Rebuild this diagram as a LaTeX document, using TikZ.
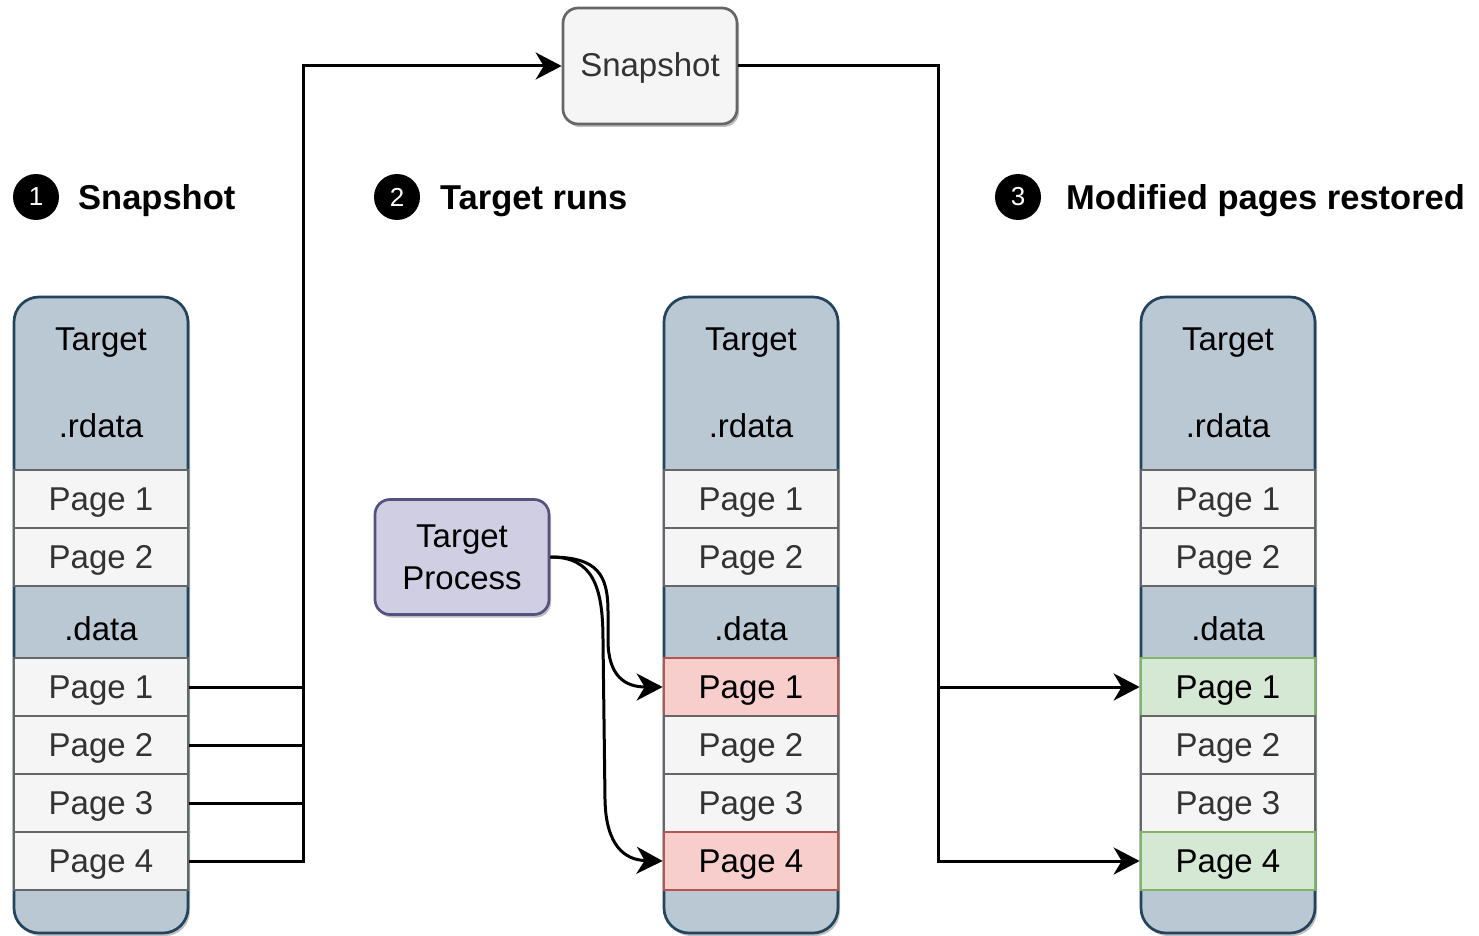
\documentclass[tikz,border=0pt]{standalone}
\usepackage{fontspec}
\setmainfont{Liberation Sans}
\usetikzlibrary{arrows.meta,shadows}
\definecolor{blueF}{HTML}{BAC8D3}
\definecolor{blueS}{HTML}{23445D}
\definecolor{grayF}{HTML}{F5F5F5}
\definecolor{grayS}{HTML}{666666}
\definecolor{grayT}{HTML}{333333}
\definecolor{redF}{HTML}{F8CECC}
\definecolor{redS}{HTML}{B85450}
\definecolor{greenF}{HTML}{D5E8D4}
\definecolor{greenS}{HTML}{82B366}
\definecolor{purpF}{HTML}{D0CEE2}
\definecolor{purpS}{HTML}{56517E}
\tikzset{
  txt/.style={font=\fontsize{33}{42}\selectfont, text height=24pt, text depth=2pt, inner sep=0pt},
  shad/.style={drop shadow={shadow xshift=2pt, shadow yshift=-3pt, opacity=0.25, fill=black}},
  page/.style={txt, draw=grayS, fill=grayF, text=grayT, line width=2.7pt, minimum width=174pt, minimum height=58pt},
  redpage/.style={page, draw=redS, fill=redF, text=black},
  greenpage/.style={page, draw=greenS, fill=greenF, text=black},
  lbl/.style={txt, text=black},
  colout/.style={draw=blueS, fill=blueF, line width=2.7pt, rounded corners=25pt, shad},
  conn/.style={line width=3pt, draw=black},
  arr/.style={conn, -{Stealth[length=26pt,width=27pt,inset=8pt]}},
  numc/.style={circle, fill=black, minimum size=46pt, inner sep=0pt, text=white, font=\fontsize{26}{26}\selectfont},
  head/.style={anchor=west, inner sep=0pt, font=\bfseries\fontsize{34.5}{40}\selectfont, text height=25pt, text depth=1pt},
  rbox/.style={rounded corners=15pt, line width=2.7pt, minimum width=174pt, shad, inner sep=0pt}
}
\newcommand\memcol[4]{%
  \draw[colout] (#1,297) rectangle ++(174,636);
  \node[lbl] (#2title) at (#1+87,339) {Target};
  \node[lbl] (#2rdata) at (#1+87,426) {.rdata};
  \node[page] (#2ra) at (#1+87,499) {Page 1};
  \node[page] (#2rb) at (#1+87,557) {Page 2};
  \node[lbl] (#2data) at (#1+87,629) {.data};
  \node[#3] (#2p1) at (#1+87,687) {Page 1};
  \node[page] (#2p2) at (#1+87,745) {Page 2};
  \node[page] (#2p3) at (#1+87,803) {Page 3};
  \node[#4] (#2p4) at (#1+87,861) {Page 4};
}
\begin{document}
\begin{tikzpicture}[x=1pt,y=-1pt]
\useasboundingbox (0,0) rectangle (1479,936);

% headings
\node[numc] (n1) at (36,197) {1};
\node[head] (h1) at (78,197) {Snapshot};
\node[numc] (n2) at (397,197) {2};
\node[head] (h2) at (440,197) {Target runs};
\node[numc] (n3) at (1018,197) {3};
\node[head] (h3) at (1066,197) {Modified pages restored};

% columns
\memcol{14}{a}{page}{page}
\memcol{664}{b}{redpage}{redpage}
\memcol{1141}{c}{greenpage}{greenpage}

% snapshot box
\node[rbox, draw=grayS, fill=grayF, text=grayT, minimum height=116pt, txt] (snap) at (650,66) {Snapshot};

% target process
\node[rbox, draw=purpS, fill=purpF, text=black, minimum height=115pt, align=center,
      font=\fontsize{33}{42}\selectfont] (tp) at (462,557) {Target\\Process};

% left connectors
\coordinate (L) at (303,66);
\draw[arr] (ap4.east) -| (L) -- (snap.west);
\draw[conn] (ap1.east) -- (L |- ap1.east);
\draw[conn] (ap2.east) -- (L |- ap2.east);
\draw[conn] (ap3.east) -- (L |- ap3.east);

% right connectors
\coordinate (R) at (938,66);
\draw[arr] (snap.east) -- (R) |- (cp4.west);
\draw[arr] (R |- cp1.west) -- (cp1.west);

% curved arrows
\draw[arr] (tp.east) .. controls (598,557) and (608,575) .. (608,612) -- (608,640)
  .. controls (608,676) and (625,687) .. (bp1.west);
\draw[arr] (tp.east) .. controls (592,557) and (603,585) .. (603,640) -- (605,800)
  .. controls (606,846) and (625,860) .. (bp4.west);
\end{tikzpicture}
\end{document}
